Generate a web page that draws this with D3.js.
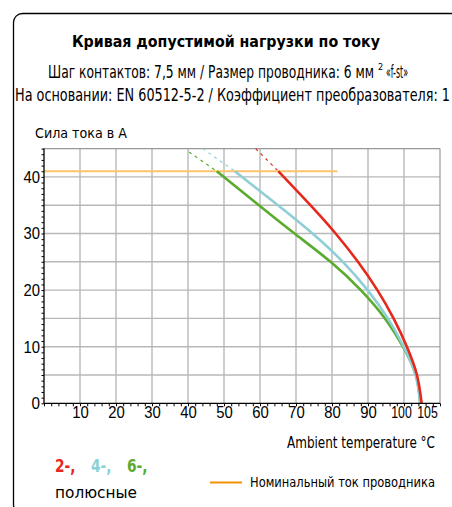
<!DOCTYPE html>
<html>
<head>
<meta charset="utf-8">
<script src="https://cdn.jsdelivr.net/npm/d3@7"></script>
<style>
body { margin: 0; background: #fff; }
svg { display: block; }
</style>
</head>
<body>
<script>
// ---- data ----
var xTicks = [10, 20, 30, 40, 50, 60, 70, 80, 90, 100, 105];
var xGrid = [10, 20, 30, 40, 50, 60, 70, 80, 90, 100];
var yTicks = [0, 10, 20, 30, 40];
var yGrid = [5, 10, 15, 20, 25, 30, 35, 40];
var ratedCurrent = 41;
var ratedCurrentEnd = 81.5;

// [temperature, current] solid part
var red2 = [[65.1, 41], [74, 35], [81, 30], [87.2, 25], [92.6, 20], [97.1, 15], [100.8, 10], [103.6, 5], [104.9, 0]];
var blue4 = [[53, 41], [65, 35], [74.6, 30], [83, 25], [89.9, 20], [95.5, 15], [99.9, 10], [103.2, 5], [104.5, 0]];
var green6 = [[48, 41], [59.7, 35], [69.6, 30], [79.6, 25], [88, 20], [94.7, 15], [99.7, 10], [103.3, 5], [104.5, 0]];
// dashed extension above rated current
var red2Dash = [[58.8, 45], [65.1, 41]];
var blue4Dash = [[44.1, 45], [53, 41]];
var green6Dash = [[40.3, 44.4], [48, 41]];

var W = 452, H = 507;
var svg = d3.select("body").append("svg").attr("width", W).attr("height", H);
var FONT = "'DejaVu Sans Condensed', 'DejaVu Sans'";

// frame
svg.append("rect").attr("x", 13.5).attr("y", 13.5).attr("width", 460).attr("height", 500)
	.attr("rx", 9).attr("fill", "none").attr("stroke", "#000").attr("stroke-width", 1.3);

function txt(s, x, y, size, len, opts) {
	opts = opts || {};
	var t = svg.append("text").attr("x", x).attr("y", y)
		.attr("font-family", FONT).attr("font-size", size)
		.attr("text-anchor", opts.anchor || "start")
		.attr("font-weight", opts.bold ? "bold" : "normal")
		.attr("fill", opts.fill || "#000")
		.text(s);
	if (len) t.attr("textLength", len).attr("lengthAdjust", "spacingAndGlyphs");
	return t;
}

// titles
txt("Кривая допустимой нагрузки по току", 72, 47, 16, 308, { bold: true });
txt("Шаг контактов: 7,5 мм / Размер проводника: 6 мм", 48, 77.5, 18.5, 326);
txt("2", 378, 70, 9);
txt("«f-st»", 386, 77.5, 17, 22);
txt("На основании: EN 60512-5-2 / Коэффициент преобразователя: 1", 15, 100.5, 18.5, 435);

txt("Сила тока в А", 35, 138, 13.5, 92);

// scales
var x = d3.scaleLinear().domain([0, 110]).range([44, 440]);
var y = d3.scaleLinear().domain([0, 45]).range([403.3, 148.6]);

var plot = svg.append("g");

// grid
plot.selectAll(".vg").data(xGrid).enter().append("line")
	.attr("x1", d => x(d)).attr("x2", d => x(d)).attr("y1", y(0)).attr("y2", y(45))
	.attr("stroke", "#b8b8b8").attr("stroke-width", 1.4);
plot.selectAll(".hg").data(yGrid).enter().append("line")
	.attr("x1", x(0)).attr("x2", x(110)).attr("y1", d => y(d)).attr("y2", d => y(d))
	.attr("stroke", "#b8b8b8").attr("stroke-width", 1.4);
// outer edges
plot.append("line").attr("x1", x(0)).attr("x2", x(110)).attr("y1", y(45)).attr("y2", y(45))
	.attr("stroke", "#999").attr("stroke-width", 1.2);
plot.append("line").attr("x1", x(110)).attr("x2", x(110)).attr("y1", y(0)).attr("y2", y(45))
	.attr("stroke", "#999").attr("stroke-width", 1.2);

// axes with minor ticks
var xMinor = d3.axisBottom(x).tickValues(d3.range(0, 111, 2)).tickSize(3).tickFormat("");
var yMinor = d3.axisLeft(y).tickValues(d3.range(0, 46, 1)).tickSize(2.5).tickFormat("");
svg.append("g").attr("transform", "translate(0," + y(0) + ")").call(xMinor)
	.call(g => g.select(".domain").remove());
svg.append("g").attr("transform", "translate(" + x(0) + ",0)").call(yMinor)
	.call(g => g.select(".domain").remove());
svg.append("line").attr("x1", x(0)).attr("x2", x(110)).attr("y1", y(0)).attr("y2", y(0))
	.attr("stroke", "#000").attr("stroke-width", 1.3);
svg.append("line").attr("x1", x(0)).attr("x2", x(0)).attr("y1", y(0)).attr("y2", y(45))
	.attr("stroke", "#000").attr("stroke-width", 1.3);

var xAxis = d3.axisBottom(x).tickValues(xTicks).tickSize(0).tickPadding(3);
var gx = svg.append("g").attr("transform", "translate(0," + y(0) + ")").call(xAxis);
gx.select(".domain").remove();
gx.selectAll("text").attr("font-family", "'Liberation Sans'").attr("font-size", 17).attr("fill", "#000")
	.attr("dx", d => d === 100 ? -3 : d === 105 ? 5 : 0)
	.attr("textLength", d => d >= 100 ? 20.5 : 16.5).attr("lengthAdjust", "spacingAndGlyphs");

var yAxis = d3.axisLeft(y).tickValues(yTicks).tickSize(0).tickPadding(4);
var gy = svg.append("g").attr("transform", "translate(" + x(0) + ",0)").call(yAxis);
gy.select(".domain").remove();
gy.selectAll("text").attr("font-family", "'Liberation Sans'").attr("font-size", 17).attr("fill", "#000")
	.attr("textLength", d => d === 0 ? 8.5 : 16.5).attr("lengthAdjust", "spacingAndGlyphs");

// curves
var line = d3.line().x(d => x(d[0])).y(d => y(d[1])).curve(d3.curveNatural);
var series = [
	{ solid: green6, dash: green6Dash, color: "#5aab2e" },
	{ solid: blue4, dash: blue4Dash, color: "#8dcfd5" },
	{ solid: red2, dash: red2Dash, color: "#e5281c" }
];
series.forEach(s => {
	plot.append("path").attr("d", d3.line().x(d => x(d[0])).y(d => y(d[1]))(s.dash))
		.attr("fill", "none").attr("stroke", s.color).attr("stroke-width", 1.2).attr("stroke-dasharray", "3,4");
});
// rated current line
plot.append("line").attr("x1", x(0)).attr("x2", x(ratedCurrentEnd))
	.attr("y1", y(ratedCurrent)).attr("y2", y(ratedCurrent))
	.attr("stroke", "#fbc46c").attr("stroke-width", 2);
series.forEach(s => {
	plot.append("path").attr("d", line(s.solid))
		.attr("fill", "none").attr("stroke", s.color).attr("stroke-width", 2.6);
});

// x axis title
txt("Ambient temperature °C", 435, 448, 15, 148, { anchor: "end" });

// legend
var poles = [{ t: "2-,", c: "#e5281c", x: 55 }, { t: "4-,", c: "#8dcfd5", x: 91 }, { t: "6-,", c: "#5aab2e", x: 127 }];
poles.forEach(p => txt(p.t, p.x, 471.5, 18, 20.5, { bold: true, fill: p.c }));
txt("полюсные", 55, 498, 16, 82);
svg.append("line").attr("x1", 210).attr("x2", 242).attr("y1", 482.5).attr("y2", 482.5)
	.attr("stroke", "#f39200").attr("stroke-width", 2);
txt("Номинальный ток проводника", 250, 486.7, 14, 185);
</script>
</body>
</html>
